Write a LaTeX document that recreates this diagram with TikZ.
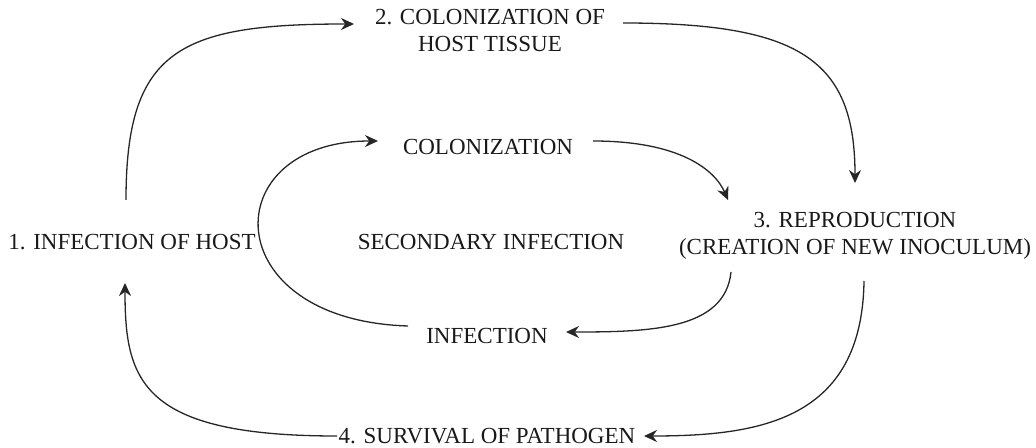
\documentclass[tikz,border=0pt]{standalone}
\usepackage{fontspec}
\setmainfont{Liberation Serif}
\usetikzlibrary{arrows.meta}

\begin{document}
\begin{tikzpicture}[x=0.5pt, y=-0.5pt,
        stage/.style={inner sep=0pt, align=center, text=black!90,
            font=\fontsize{11.5}{13.5}\selectfont},
        cyc/.style={-{Stealth[length=6.5pt,width=6pt]}, line width=0.65pt, draw=black!85}]
        \useasboundingbox (0,0) rectangle (1036,448);

        % Primary cycle
        \node[stage] (host) at (132,242) {1. INFECTION OF HOST};
        \node[stage] (tissue) at (490,31) {2. COLONIZATION OF\\HOST TISSUE};
        \node[stage] (repro) at (855,236) {3. REPRODUCTION\\(CREATION OF NEW INOCULUM)};
        \node[stage] (survival) at (487,436) {4. SURVIVAL OF PATHOGEN};

        % Secondary cycle
        \node[stage] (secondary) at (491,242) {SECONDARY INFECTION};
        \node[stage] (colon) at (488,147) {COLONIZATION};
        \node[stage] (infect) at (487,336) {INFECTION};

        % outer arrows
        \draw[cyc] ([shift={(-6,-42)}]host.center) .. controls +(0,-150) and +(-175,0) .. ([shift={(-136,-7)}]tissue.center);
        \draw[cyc] ([shift={(133,-8)}]tissue.center) .. controls +(177,0) and +(0,-123) .. ([shift={(0,-53)}]repro.center);
        \draw[cyc] ([shift={(9,45)}]repro.center) .. controls +(-2,139) and +(116,0) .. ([shift={(157,0)}]survival.center);
        \draw[cyc] ([shift={(-150,0)}]survival.center) .. controls +(-197,0) and +(0,97) .. ([shift={(-7,41)}]host.center);

        % inner arrows
        \draw[cyc] ([shift={(-79,-10)}]infect.center) .. controls +(-193,-6) and +(-163,0) .. ([shift={(-110,-6)}]colon.center);
        \draw[cyc] ([shift={(105,-6)}]colon.center) .. controls +(87,0) and +(-13,-30) .. ([shift={(-127,-36)}]repro.center);
        \draw[cyc] ([shift={(-124,36)}]repro.center) .. controls +(-6,58) and +(84,0) .. ([shift={(79,-4)}]infect.center);
\end{tikzpicture}
\end{document}
